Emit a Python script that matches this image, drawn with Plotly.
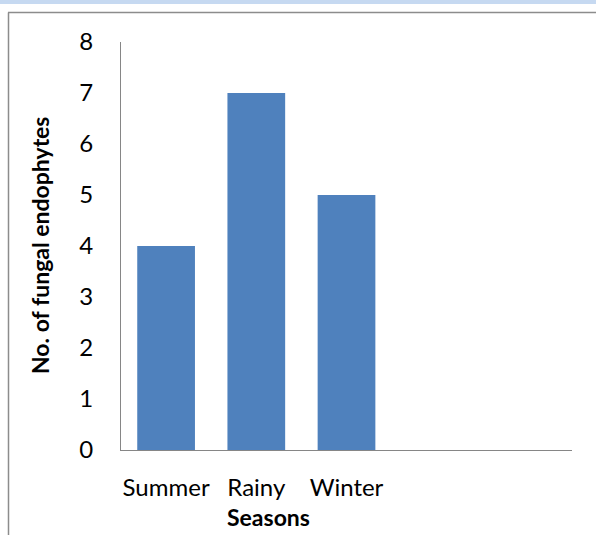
import plotly.graph_objects as go

categories = ["Summer", "Rainy", "Winter", "", ""]
values = [4, 7, 5, None, None]
y_ticks = [0, 1, 2, 3, 4, 5, 6, 7, 8]
x_title = "Seasons"
y_title = "No. of fungal endophytes"

W, H = 596, 535
L, R, T, B = 121, 24, 42, 85
pw, ph = W - L - R, H - T - B

def px(x):
    return (x - L) / pw

def py(y):
    return (H - B - y) / ph

FONT = "Lato"
xs = list(range(len(categories)))

fig = go.Figure(go.Bar(
    x=xs, y=values, marker=dict(color="#4f81bd", line=dict(width=0)),
    hoverinfo="skip"))

fig.update_layout(
    width=W, height=H,
    margin=dict(l=L, r=R, t=T, b=B),
    paper_bgcolor="white", plot_bgcolor="white",
    bargap=0.36, showlegend=False,
    font=dict(family=FONT, color="#000000"),
    xaxis=dict(range=[-0.5, len(categories) - 0.5], tickvals=xs, ticktext=categories,
               showline=True, linecolor="#868686", linewidth=1, showgrid=False,
               zeroline=False, ticks="outside", ticklen=16, tickcolor="rgba(0,0,0,0)",
               tickfont=dict(size=24, family=FONT)),
    yaxis=dict(range=[0, 8], tickvals=y_ticks, showline=True, linecolor="#868686",
               linewidth=1, showgrid=False, zeroline=False, ticks="outside",
               ticklen=22, tickcolor="rgba(0,0,0,0)",
               tickfont=dict(size=24, family=FONT)),
    shapes=[
        dict(type="rect", xref="paper", yref="paper", x0=px(0), x1=px(W), y0=py(4), y1=py(0),
             fillcolor="#c6d9f1", line=dict(width=0), layer="below"),
        dict(type="line", xref="paper", yref="paper", x0=px(8), x1=px(W), y0=py(12.5), y1=py(12.5),
             line=dict(color="#8c8c8c", width=1.5)),
        dict(type="line", xref="paper", yref="paper", x0=px(8.5), x1=px(8.5), y0=py(12.5), y1=py(H),
             line=dict(color="#8c8c8c", width=1.5)),
    ],
    annotations=[
        dict(text=f"<b>{y_title}</b>", xref="paper", yref="paper", x=px(40), y=py(246),
             textangle=-90, showarrow=False, font=dict(size=23, family=FONT),
             xanchor="center", yanchor="middle"),
        dict(text=f"<b>{x_title}</b>", xref="paper", yref="paper", x=px(268), y=py(517),
             showarrow=False, font=dict(size=23, family=FONT),
             xanchor="center", yanchor="middle"),
    ],
)

fig.write_html("out.html", config={"displayModeBar": False},
               post_script="document.body.style.margin='0';")
